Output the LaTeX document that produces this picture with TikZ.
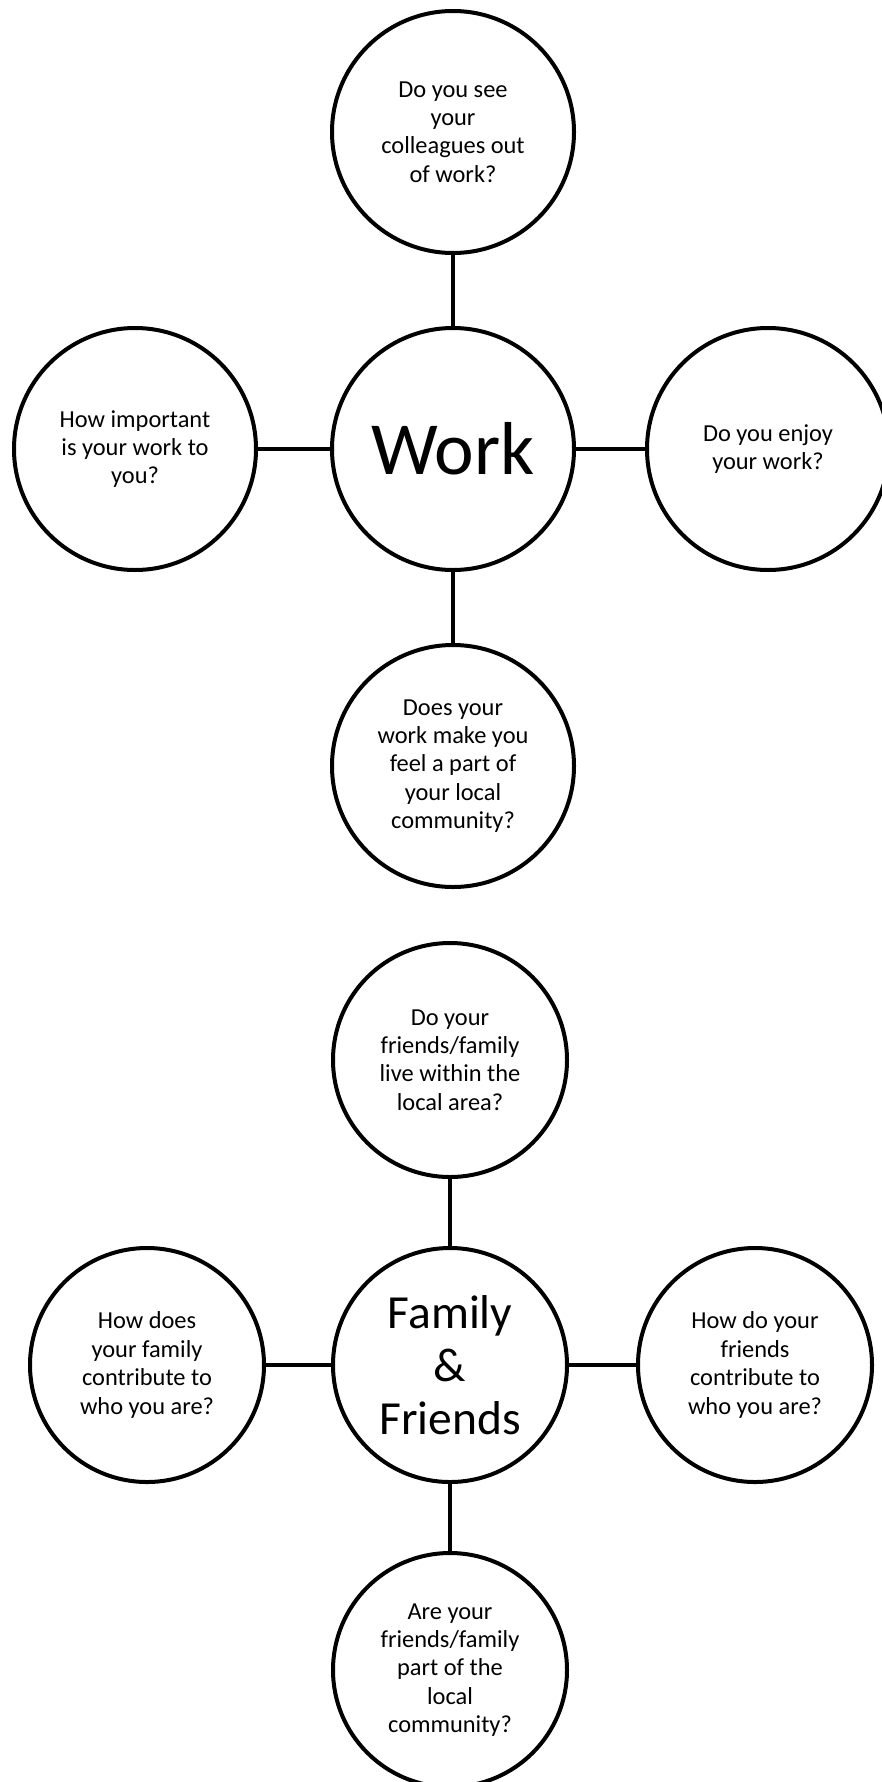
\documentclass[tikz,border=0pt]{standalone}
\usepackage{fontspec}
\setmainfont{Carlito}
\begin{document}
\begin{tikzpicture}[x=1pt,y=-1pt,
  bubble/.style={circle,draw=black,line width=4pt,inner sep=0pt,align=center,
    font=\fontsize{24.4}{28.4}\selectfont},
  big/.style={bubble,minimum size=242pt},
  small/.style={bubble,minimum size=234pt},
  link/.style={line width=4pt,draw=black}]
\useasboundingbox (0,0) rectangle (881,1782);

% Work cluster
\node[big,font=\fontsize{75}{80}\selectfont] (work) at (453,449) {Work};
\node[big] (wtop) at (453,132) {Do you see\\your\\colleagues out\\of work?};
\node[big] (wleft) at (135,449) {How important\\is your work to\\you?};
\node[big] (wright) at (768,449) {Do you enjoy\\your work?};
\node[big] (wbot) at (453,766) {Does your\\work make you\\feel a part of\\your local\\community?};
\draw[link] (work) -- (wtop);
\draw[link] (work) -- (wleft);
\draw[link] (work) -- (wright);
\draw[link] (work) -- (wbot);

% Family & Friends cluster
\node[small,font=\fontsize{47.5}{53}\selectfont] (fam) at (450,1365) {Family\\\&\\Friends};
\node[small] (ftop) at (450,1060) {Do your\\friends/family\\live within the\\local area?};
\node[small] (fleft) at (147,1365) {How does\\your family\\contribute to\\who you are?};
\node[small] (fright) at (755,1365) {How do your\\friends\\contribute to\\who you are?};
\node[small] (fbot) at (450,1670) {Are your\\friends/family\\part of the\\local\\community?};
\draw[link] (fam) -- (ftop);
\draw[link] (fam) -- (fleft);
\draw[link] (fam) -- (fright);
\draw[link] (fam) -- (fbot);
\end{tikzpicture}
\end{document}
